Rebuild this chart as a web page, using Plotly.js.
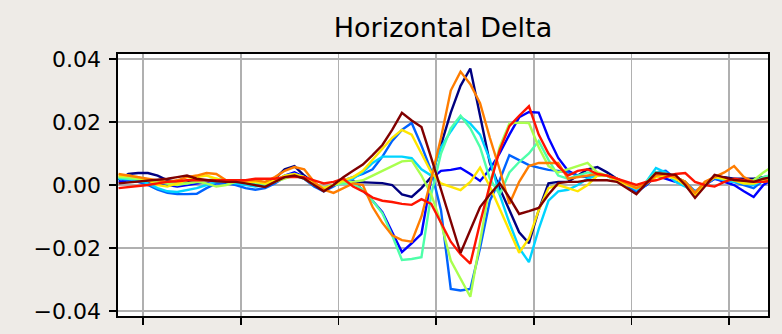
<!DOCTYPE html>
<html>
<head>
<meta charset="utf-8">
<script src="https://cdn.plot.ly/plotly-3.0.1.min.js"></script>
<style>html,body{margin:0;padding:0;background:#eeebe7;}#chart{width:782px;height:334px;}</style>
</head>
<body>
<div id="chart"></div>
<script>
// sample index along the horizontal profile
const sampleIndex = Array.from({length: 68}, (_, i) => i);
const xTickVals = [2.5, 12.5, 22.5, 32.5, 42.5, 52.5, 62.5];
const yTickVals = [-0.04, -0.02, 0, 0.02, 0.04];
const yTickText = ["\u22120.04", "\u22120.02", "0.00", "0.02", "0.04"];

// values in units of 1e-3
const series0 = [1.5,3.5,3.8,3.8,3,1.5,1,1,1,1.5,1.5,1,1,1,0.5,0.5,2,5,6,3,0.5,-1.5,
  0,1,1,0.8,0.8,0.6,0,-3,-3.8,-1,2.5,13,23,31.5,37,22,7,-1,-8,-15,-18.5,-8,0.5,1,
  1,3,5,5.7,4,2,0.5,-2,0,3,3,2.5,1,-3,0.5,2.5,2.5,2,2,2,2.5,3];
const series1 = [1,1.5,1.5,1,0.5,0,-0.5,0,0.5,1,1.5,1,1,0.5,0,-0.5,1,3,4,2.5,0,-1,
  0,1,1.5,-1.6,-5,-8.6,-15,-21.3,-18.5,-15.5,2,4.5,4.8,5.4,3.5,1.3,5,10,16,21.5,23.2,23,15,8.6,
  4.5,3,2.5,3,3,1.5,0,-2,0,3,2,1,0.5,-2.5,0,2,1,0,-2,-3.8,0,2];
const series2 = [2,1.5,1,0,-1.5,-2.5,-2.9,-2.9,-2.8,-1,0.5,0.5,0,-1,-1.5,-1,0.5,2.5,3,2,-0.5,-2,
  -0.5,1.5,2.5,3.5,5,9,14,17.5,19.7,12.5,4.5,-8,-33,-33.5,-33,-20,-5,1.5,9.5,8,6.3,5.5,4.8,4.5,
  4,3,2.5,3,3,1.5,0,-2.5,0,4,4.5,2,1,-2,0,2,1.5,1,0,-1,1.5,2];
const series3 = [2,2,1.5,0.5,-1,-2,-2.2,-1.5,-1,0,1,1,0.5,0,-0.5,0,1,3,3.5,2.5,0,-1.5,
  0,1,2,4,7,9,9,9,8.5,5,3,12,17,21.6,19.5,16,8,-3,-12,-20,-24.5,-14,-5,-2,
  -1.5,0,2,3,3,1.5,0.5,-1.5,1,5.4,4,1,-0.5,-2.5,0.5,2.5,1.5,1,0.5,0,1.5,2];
const series4 = [2.5,2,2,1.5,1,0.5,0.5,0.5,1,1.5,2,1.5,1,1,0.5,0.5,1,2.5,3,2,0,-1,
  0,0.5,0.5,-1.5,-5,-9,-16,-23.8,-23.5,-22.9,-3,10,18,22,18,12,2,-3,4,7.3,10,14,8,3,
  2,3,4,3.5,3,1.5,0.5,-1,1,4,3.5,2,1,-2.5,0.5,2.5,2,1.5,1,1,2.5,3.5];
const series5 = [2.5,2.5,2,1.5,1,0.5,0,0.5,1,0.5,-0.5,0,1,1,1,0.5,1,2,3,2.5,0.5,-1,
  0,1,1,1.5,3,4.5,6,7.5,7.8,3,-3,-12,-24,-30,-35.5,-18,0,12,19.5,19.8,19.7,12,6,4,
  5,6,7,4,3,1.5,0.5,-1,0.5,3,3,2.5,1,-3,0.5,2.5,2,1.5,1,1.5,4,6];
const series6 = [3,3,2.5,1.5,0,-0.5,0.5,1.5,2.5,3,2,1,1,1,1,0.5,1.5,3,3.5,2.5,0.5,-1,
  0,1.5,2.5,4.5,8,11.5,15,17.5,16,10,4,0.5,-0.5,-1.6,1,5.5,-0.5,-7.5,-14.5,-21.5,-17,-8,-1,0,
  -1,-2,0,3,3,1.5,0,-1,0.5,2.5,3,2,0,-3.5,0,2.5,2,1.5,0.5,0.5,1.5,2];
const series7 = [3.5,3,2.5,2,1.5,1,1.5,2.5,3,3.8,3.5,1.5,1,1.5,1.5,1,2.5,4.5,5.7,5,1,-1.5,
  -2.5,-1,0.5,0,-7,-12,-16,-17.5,-18,-10,2,15,30,36,32,26,15,5,-6,1,6,7,7,7,
  2,2.5,3,3.5,3,2,0.5,-1,0.5,3,3.5,2.5,1,-2.5,1,2.5,4,6,2.5,1,1,1.5];
const series8 = [-1,-0.7,-0.3,0,0.5,1,1.2,1.5,1.5,1.5,1.5,1.5,1.5,1.5,2,2,2,2.5,2.5,2.5,1.5,0.5,
  1,2,-0.5,-2,-4,-5,-5.4,-6,-6.3,-4.5,-6,-12,-18,-22,-25,-12,0,11,18.7,22,25,16,10,6,
  3,4.5,5,3.5,3,2,1,0,1,1.5,2.5,3.5,3.8,1,0,-0.5,1,2,1.5,1,1,1.5];
const series9 = [0.5,0.8,1,1.2,1.5,2,2.5,3,2,1.5,1.2,1,1,0.5,0,-0.6,1,2.5,3,2,0,-2,
  0,2.5,4.5,6.5,9.5,12.7,17.5,22.9,20.5,18.4,8.6,-1.6,-11.4,-21.6,-14.3,-7,-3,0.6,-4,-9.2,-8.3,-7.3,-3,0.6,
  1,1,1.5,1.5,1.5,1,-1,-2.9,0.5,3.8,3.5,3.2,0,-4.1,-0.5,3.2,2.4,1.6,1.3,1,2,2.5];

const allSeries = [series0, series1, series2, series3, series4, series5, series6, series7, series8, series9];
const colors = ["#000080", "#0000ff", "#0063ff", "#00d4ff", "#4effa9", "#a9ff4e", "#ffe600", "#ff7d00", "#ff1400", "#800000"];
const unit = 1e-3;

const traces = allSeries.map((s, k) => ({
  x: sampleIndex,
  y: s.map(v => v * unit),
  type: "scatter",
  mode: "lines",
  line: {color: colors[k], width: 2.4},
  showlegend: false,
  hoverinfo: "skip"
}));

const axisCommon = {
  showline: true, mirror: true, linecolor: "#000", linewidth: 1.6,
  showgrid: true, gridcolor: "#b0b0b0", gridwidth: 1.6,
  zeroline: false, ticks: "outside", ticklen: 7, tickwidth: 1.6, tickcolor: "#000",
  tickmode: "array"
};

const layout = {
  width: 782, height: 334,
  margin: {l: 118, r: 14, t: 54, b: 18, pad: 0},
  paper_bgcolor: "#eeebe7",
  plot_bgcolor: "#ffffff",
  font: {family: "DejaVu Sans", color: "#000"},
  title: {text: "Horizontal Delta", font: {family: "DejaVu Sans", size: 27, color: "#000"},
          x: 0.5, xref: "paper", xanchor: "center", y: 1 - 28/334, yref: "container", yanchor: "middle"},
  xaxis: Object.assign({}, axisCommon, {range: [-0.06, 66.47], tickvals: xTickVals, showticklabels: false}),
  yaxis: Object.assign({}, axisCommon, {range: [-0.0416, 0.0416], tickvals: yTickVals, ticktext: yTickText,
          ticklabelstandoff: 4,
          tickfont: {family: "DejaVu Sans", size: 22, color: "#000"}})
};

Plotly.newPlot("chart", traces, layout, {staticPlot: true, displayModeBar: false});
</script>
</body>
</html>
